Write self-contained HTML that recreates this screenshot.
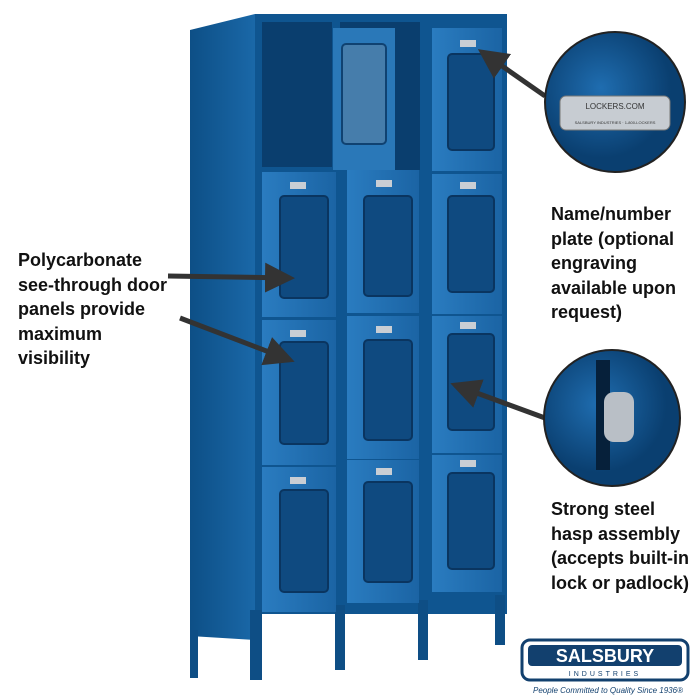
<!DOCTYPE html>
<html><head><meta charset="utf-8"><style>
body{margin:0;width:700px;height:700px;background:#fff;overflow:hidden;font-family:"Liberation Sans",sans-serif}
.t{position:absolute;font-weight:bold;font-size:18px;line-height:24.5px;color:#111}
</style></head><body>
<svg width="700" height="700" style="position:absolute;left:0;top:0">
<defs>
<linearGradient id="side" x1="0" x2="1"><stop offset="0" stop-color="#0d4f86"/><stop offset="1" stop-color="#1a68a8"/></linearGradient>
<linearGradient id="door" x1="0" x2="1"><stop offset="0" stop-color="#2a7cc0"/><stop offset="1" stop-color="#1b64a4"/></linearGradient>
<radialGradient id="circ" cx=".4" cy=".4"><stop offset="0" stop-color="#1f6db0"/><stop offset="1" stop-color="#0a3f70"/></radialGradient>
<marker id="ah" markerWidth="6" markerHeight="6" refX="5" refY="3" orient="auto"><path d="M0,0L6,3L0,6z" fill="#333"/></marker>
</defs>
<polygon points="190,30 255,14 255,640 190,636" fill="url(#side)"/>
<rect x="255" y="14" width="252" height="600" fill="#0f5590"/>
<rect x="190" y="630" width="8" height="48" fill="#0e4e85"/>
<rect x="250" y="610" width="12" height="70" fill="#0e4e85"/>
<rect x="335" y="605" width="10" height="65" fill="#0e4e85"/>
<rect x="418" y="600" width="10" height="60" fill="#0e4e85"/>
<rect x="495" y="595" width="10" height="50" fill="#0e4e85"/>
<g fill="#0f4a80" stroke="#0a3560" stroke-width="2">
<rect x="262" y="172" width="74" height="145" fill="url(#door)" stroke="none"/><rect x="280" y="196" width="48" height="102" rx="4"/>
<rect x="262" y="320" width="74" height="145" fill="url(#door)" stroke="none"/><rect x="280" y="342" width="48" height="102" rx="4"/>
<rect x="262" y="467" width="74" height="145" fill="url(#door)" stroke="none"/><rect x="280" y="490" width="48" height="102" rx="4"/>
<rect x="262" y="22" width="70" height="145" fill="#0a3e6e" stroke="none"/>
<rect x="347" y="170" width="72" height="143" fill="url(#door)" stroke="none"/><rect x="364" y="196" width="48" height="100" rx="4"/>
<rect x="347" y="316" width="72" height="143" fill="url(#door)" stroke="none"/><rect x="364" y="340" width="48" height="100" rx="4"/>
<rect x="347" y="460" width="72" height="143" fill="url(#door)" stroke="none"/><rect x="364" y="482" width="48" height="100" rx="4"/>
<rect x="340" y="22" width="80" height="148" fill="#0a3e6e" stroke="none"/>
<rect x="333" y="28" width="62" height="142" fill="#2a78b8" stroke="none"/><rect x="342" y="44" width="44" height="100" rx="4" fill="#4d7fa8" opacity=".8"/>
<rect x="432" y="28" width="70" height="143" fill="url(#door)" stroke="none"/><rect x="448" y="54" width="46" height="96" rx="4"/>
<rect x="432" y="174" width="70" height="140" fill="url(#door)" stroke="none"/><rect x="448" y="196" width="46" height="96" rx="4"/>
<rect x="432" y="316" width="70" height="137" fill="url(#door)" stroke="none"/><rect x="448" y="334" width="46" height="96" rx="4"/>
<rect x="432" y="455" width="70" height="137" fill="url(#door)" stroke="none"/><rect x="448" y="473" width="46" height="96" rx="4"/>
</g>
<g fill="#c9ced4"><rect x="290" y="182" width="16" height="7"/><rect x="290" y="330" width="16" height="7"/><rect x="290" y="477" width="16" height="7"/>
<rect x="376" y="180" width="16" height="7"/><rect x="376" y="326" width="16" height="7"/><rect x="376" y="468" width="16" height="7"/>
<rect x="460" y="40" width="16" height="7"/><rect x="460" y="182" width="16" height="7"/><rect x="460" y="322" width="16" height="7"/><rect x="460" y="460" width="16" height="7"/></g>
<g stroke="#333" stroke-width="5" fill="none" marker-end="url(#ah)">
<line x1="168" y1="276" x2="290" y2="278"/>
<line x1="180" y1="318" x2="290" y2="360"/>
<line x1="545" y1="96" x2="482" y2="52"/>
<line x1="545" y1="418" x2="455" y2="385"/>
</g>
<circle cx="615" cy="102" r="70" fill="url(#circ)" stroke="#222" stroke-width="2"/>
<rect x="560" y="96" width="110" height="34" rx="6" fill="#c7ccd2" stroke="#777"/>
<text x="615" y="109" font-size="8" text-anchor="middle" fill="#333" font-family="Liberation Sans">LOCKERS.COM</text>
<text x="615" y="124" font-size="4" text-anchor="middle" fill="#333" font-family="Liberation Sans">SALSBURY INDUSTRIES · 1-800-LOCKERS</text>
<circle cx="612" cy="418" r="68" fill="url(#circ)" stroke="#222" stroke-width="2"/>
<rect x="596" y="360" width="14" height="110" fill="#06203a"/>
<rect x="604" y="392" width="30" height="50" rx="10" fill="#b9bfc6"/>
<rect x="522" y="640" width="166" height="40" rx="8" fill="#fff" stroke="#12406e" stroke-width="3"/>
<rect x="528" y="645" width="154" height="21" rx="4" fill="#12406e"/>
<text x="605" y="662" font-size="18" font-weight="bold" text-anchor="middle" fill="#fff" font-family="Liberation Sans">SALSBURY</text>
<text x="605" y="676" font-size="7" text-anchor="middle" fill="#12406e" font-family="Liberation Sans" letter-spacing="3">INDUSTRIES</text>
<text x="608" y="693" font-size="8" font-style="italic" text-anchor="middle" fill="#12406e" font-family="Liberation Sans">People Committed to Quality Since 1936®</text>
</svg>
<div class="t" style="left:18px;top:248px">Polycarbonate<br>see-through door<br>panels provide<br>maximum<br>visibility</div>
<div class="t" style="left:551px;top:202px">Name/number<br>plate (optional<br>engraving<br>available upon<br>request)</div>
<div class="t" style="left:551px;top:497px">Strong steel<br>hasp assembly<br>(accepts built-in<br>lock or padlock)</div>
</body></html>
